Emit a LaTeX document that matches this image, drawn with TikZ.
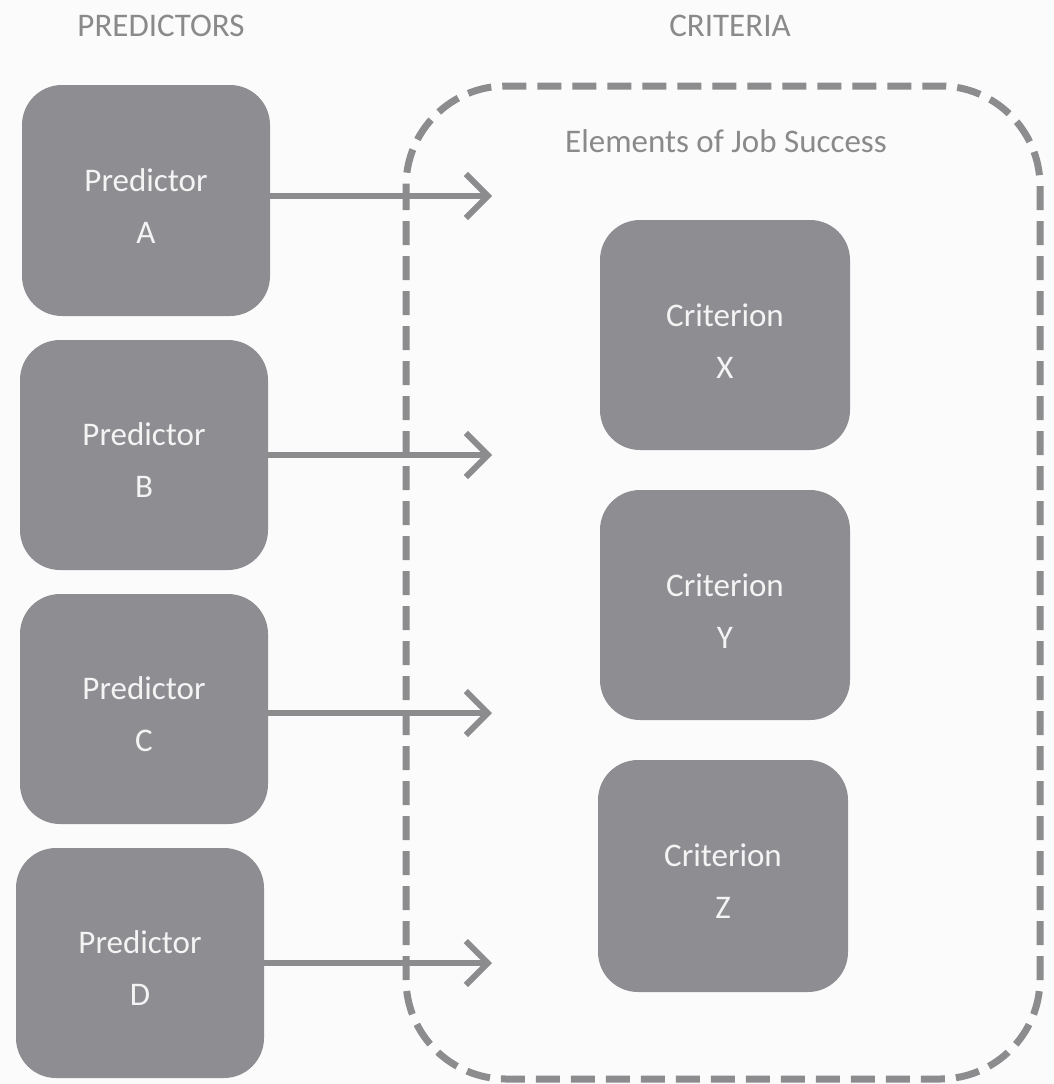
\documentclass[tikz,border=0pt]{standalone}
\usepackage{fontspec}
\setmainfont{Carlito}
\usetikzlibrary{arrows.meta}
\definecolor{boxgray}{HTML}{8E8E92}
\definecolor{linegray}{HTML}{8C8C8F}
\definecolor{labgray}{HTML}{8A8A8A}
\definecolor{txtwhite}{HTML}{F4F4F4}
\definecolor{bgc}{HTML}{FBFBFB}
\begin{document}
\begin{tikzpicture}[x=1pt,y=-1pt,
  boxstyle/.style={fill=boxgray, draw=none, rounded corners=40pt, text=txtwhite,
    font=\fontsize{33}{52}\selectfont, align=center, inner sep=0pt},
  headstyle/.style={text=labgray, font=\fontsize{33}{38}\selectfont, inner sep=0pt},
  conn/.style={draw=linegray, line width=6pt, -{Straight Barb[length=22pt,width=44pt,line width=6pt]}},
  dashbox/.style={draw=linegray, line width=7pt, dash pattern=on 24pt off 11pt, rounded corners=100pt}]
\fill[bgc] (0,0) rectangle (1054,1084);
\useasboundingbox (0,0) rectangle (1054,1084);
% headers
\node[headstyle] (hp) at (161,26) {PREDICTORS};
\node[headstyle] (hc) at (730,26) {CRITERIA};
% dashed container
\draw[dashbox] (406,86) rectangle (1040,1079);
\node[headstyle] (el) at (726,141) {Elements of Job Success};
% predictors
\path[boxstyle] (22,85) rectangle (270,316);
\node[boxstyle, fill=none] (pa) at (146,206) {Predictor\\A};
\path[boxstyle] (20,340) rectangle (268,570);
\node[boxstyle, fill=none] (pb) at (144,460) {Predictor\\B};
\path[boxstyle] (20,594) rectangle (268,824);
\node[boxstyle, fill=none] (pc) at (144,714) {Predictor\\C};
\path[boxstyle] (16,848) rectangle (264,1078);
\node[boxstyle, fill=none] (pd) at (140,968) {Predictor\\D};
% criteria
\path[boxstyle] (600,220) rectangle (850,450);
\node[boxstyle, fill=none] (cx) at (725,341) {Criterion\\X};
\path[boxstyle] (600,490) rectangle (850,720);
\node[boxstyle, fill=none] (cy) at (725,611) {Criterion\\Y};
\path[boxstyle] (598,760) rectangle (848,992);
\node[boxstyle, fill=none] (cz) at (723,881) {Criterion\\Z};
% arrow endpoints
\coordinate (ea) at (492,196);
\coordinate (eb) at (492,455);
\coordinate (ec) at (492,713);
\coordinate (ed) at (492,963);
\coordinate (sa) at (270,196);
\coordinate (sb) at (268,455);
\coordinate (sc) at (268,713);
\coordinate (sd) at (264,963);
\draw[conn] (sa) -- (ea);
\draw[conn] (sb) -- (eb);
\draw[conn] (sc) -- (ec);
\draw[conn] (sd) -- (ed);
\end{tikzpicture}
\end{document}
